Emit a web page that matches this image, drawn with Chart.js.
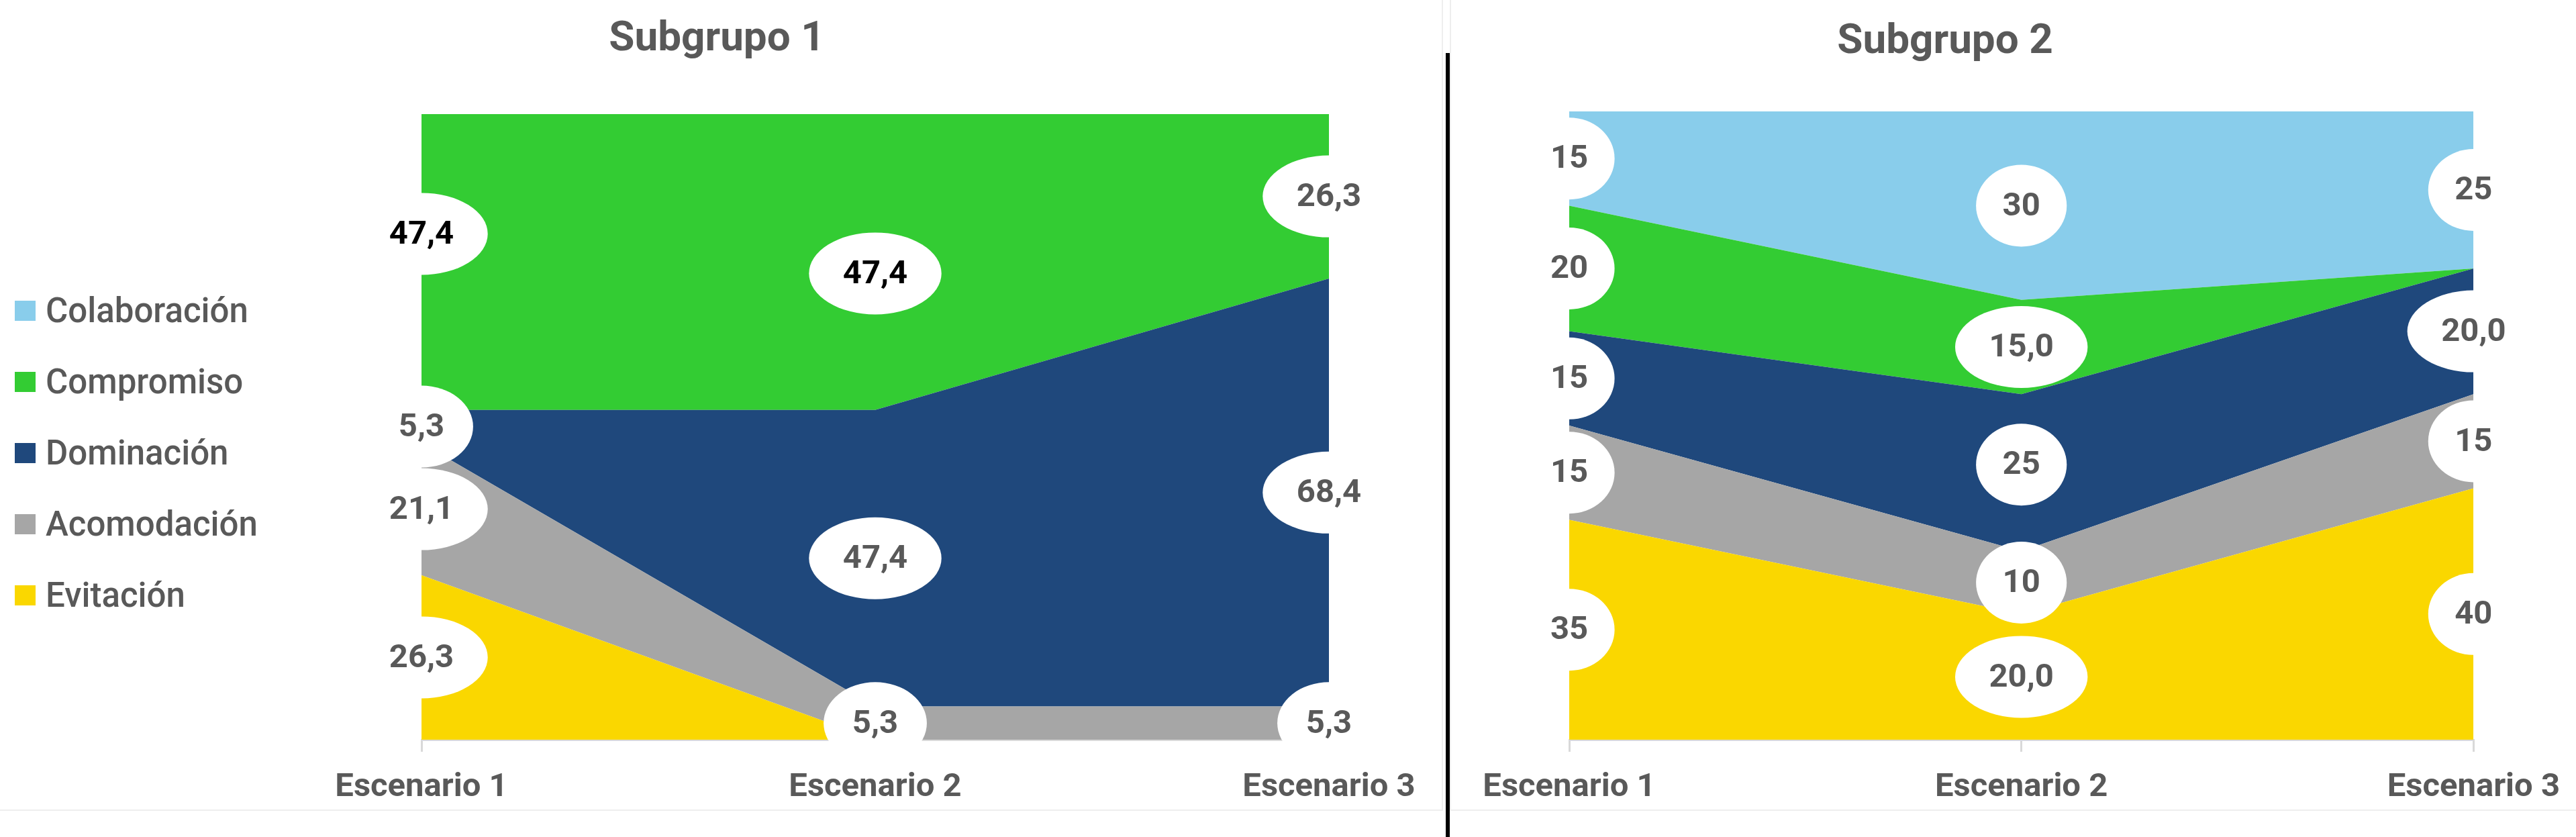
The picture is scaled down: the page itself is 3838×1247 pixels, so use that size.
<!DOCTYPE html>
<html>
<head>
<meta charset="utf-8">
<script src="https://cdn.jsdelivr.net/npm/chart.js@4.4.1/dist/chart.umd.min.js"></script>
<style>
  html,body{margin:0;padding:0;background:#fff;width:3838px;height:1247px;overflow:hidden}
  body{position:relative;font-family:Roboto,'Liberation Sans',sans-serif;color:#595959}
  .wrap{position:absolute;top:0;height:1206px}
  .line{position:absolute;background:#eeeeee}
  .title{position:absolute;width:800px;text-align:center;font-weight:700;font-size:62px;line-height:62px;color:#595959}
  .leg{position:absolute;left:0;height:70px;line-height:70px;font-size:51px;font-weight:500;color:#595959;white-space:nowrap}
  .leg i{position:absolute;left:22px;top:20px;width:31px;height:30px}
  .leg span{position:absolute;left:68px;top:0}
</style>
</head>
<body>
<div class="line" style="left:2148px;top:0;width:2px;height:1208px"></div>
<div class="line" style="left:0;top:1206px;width:2150px;height:2px"></div>
<div class="line" style="left:2160px;top:0;width:2px;height:1208px"></div>
<div class="line" style="left:2160px;top:1206px;width:1678px;height:2px"></div>
<div style="position:absolute;left:2154px;top:79px;width:6px;height:1168px;background:#000"></div>

<div class="wrap" style="left:0;width:2148px"><canvas id="c1"></canvas></div>
<div class="wrap" style="left:2162px;width:1676px"><canvas id="c2"></canvas></div>

<div class="title" style="left:668px;top:23px">Subgrupo 1</div>
<div class="title" style="left:2498px;top:27px">Subgrupo 2</div>
<div id="legend"></div>

<script>
const escenarios = ['Escenario 1','Escenario 2','Escenario 3']
const series = ['Evitación','Acomodación','Dominación','Compromiso','Colaboración']
const colors = ['#FAD700','#A6A6A6','#1F487C','#33CC33','#89CDEB']

// Subgrupo 1 (%)
const s1Evitacion    = [26.3, 0, 0]
const s1Acomodacion  = [21.1, 5.3, 5.3]
const s1Dominacion   = [5.3, 47.4, 68.4]
const s1Compromiso   = [47.4, 47.4, 26.3]
const s1Colaboracion = [0, 0, 0]

// Subgrupo 2 (%)
const s2Evitacion    = [35, 20, 40]
const s2Acomodacion  = [15, 10, 15]
const s2Dominacion   = [15, 25, 20]
const s2Compromiso   = [20, 15, 0]
const s2Colaboracion = [15, 30, 25]

// label quirks copied from the original
const s2OneDecimal = ['Compromiso-1','Evitación-1','Dominación-2']
const s1BlackLabels = ['Compromiso-0','Compromiso-1']
// labels that were dragged by hand in the original (px)
const s1LabelShift = { 'Compromiso-0':-42, 'Compromiso-1':17 }
const s2LabelShift = { 'Dominación-1':-12 }

const FONT = "Roboto, 'Liberation Sans', sans-serif"
const GREY = '#595959'

// legend (top = last series)
document.getElementById('legend').innerHTML = series.map((s,i)=>({s,c:colors[i]})).reverse()
  .map((d,k)=>`<div class="leg" style="top:${428+k*106}px"><i style="background:${d.c}"></i><span>${d.s}</span></div>`).join('')

const ellipseLabels = {
  id:'ellipseLabels',
  afterDatasetsDraw(chart, args, opts) {
    const ctx = chart.ctx, y0 = chart.scales.y.getPixelForValue(0)
    const items = []
    chart.data.datasets.forEach((ds,di)=>{
      const meta = chart.getDatasetMeta(di)
      meta.data.forEach((pt,i)=>{
        const v = ds.data[i]
        if(!v) return
        const base = di===0 ? y0 : chart.getDatasetMeta(di-1).data[i].y
        const top = Math.max(pt.y, chart.chartArea.top)
        const dy = opts.shift[`${ds.label}-${i}`] || 0
        items.push({ x:pt.x, y:(top+base)/2+dy, text:opts.format(v, ds.label, i), color:opts.color(ds.label, i) })
      })
    })
    ctx.save()
    ctx.font = `bold 49px ${FONT}`
    ctx.textAlign = 'center'; ctx.textBaseline = 'middle'
    items.forEach(it=>{
      const w = ctx.measureText(it.text).width
      ctx.beginPath()
      ctx.ellipse(it.x, it.y, (w*1.55+48)/2, 61, 0, 0, Math.PI*2)
      ctx.fillStyle = '#fff'; ctx.fill()
    })
    items.forEach(it=>{ ctx.fillStyle = it.color; ctx.fillText(it.text, it.x, it.y+2) })
    ctx.restore()
  }
}

function makeChart(id, arrays, pad, format, color, shift) {
  return new Chart(document.getElementById(id), {
    type:'line',
    data:{
      labels:escenarios,
      datasets:arrays.map((d,i)=>({
        label:series[i], data:d, backgroundColor:colors[i], borderColor:colors[i],
        borderWidth:0, pointRadius:0, tension:0, fill:i===0?'origin':'-1'
      }))
    },
    options:{
      responsive:true, maintainAspectRatio:false, animation:false,
      layout:{ padding:pad },
      plugins:{ legend:{display:false}, tooltip:{enabled:false}, title:{display:false},
        ellipseLabels:{ format, color, shift } },
      scales:{
        x:{ offset:false,
          grid:{ drawOnChartArea:false, drawTicks:true, tickLength:18, color:'#D9D9D9', lineWidth:3 },
          border:{ display:true, color:'#D9D9D9', width:3 },
          ticks:{ color:GREY, font:{family:FONT,size:49,weight:'bold'}, padding:24, maxRotation:0, autoSkip:false },
          afterFit:s=>{ s.height = 104 } },
        y:{ display:false, stacked:true, min:0, max:100 }
      }
    },
    plugins:[ellipseLabels]
  })
}

const f1 = v => v.toFixed(1).replace('.',',')
makeChart('c1',
  [s1Evitacion,s1Acomodacion,s1Dominacion,s1Compromiso,s1Colaboracion],
  { left:628, right:168, top:170, bottom:0 },
  f1,
  (s,i) => s1BlackLabels.includes(`${s}-${i}`) ? '#000' : GREY,
  s1LabelShift)

makeChart('c2',
  [s2Evitacion,s2Acomodacion,s2Dominacion,s2Compromiso,s2Colaboracion],
  { left:176, right:146, top:166, bottom:0 },
  (v,s,i) => s2OneDecimal.includes(`${s}-${i}`) ? f1(v) : String(v),
  () => GREY,
  s2LabelShift)
</script>
</body>
</html>
